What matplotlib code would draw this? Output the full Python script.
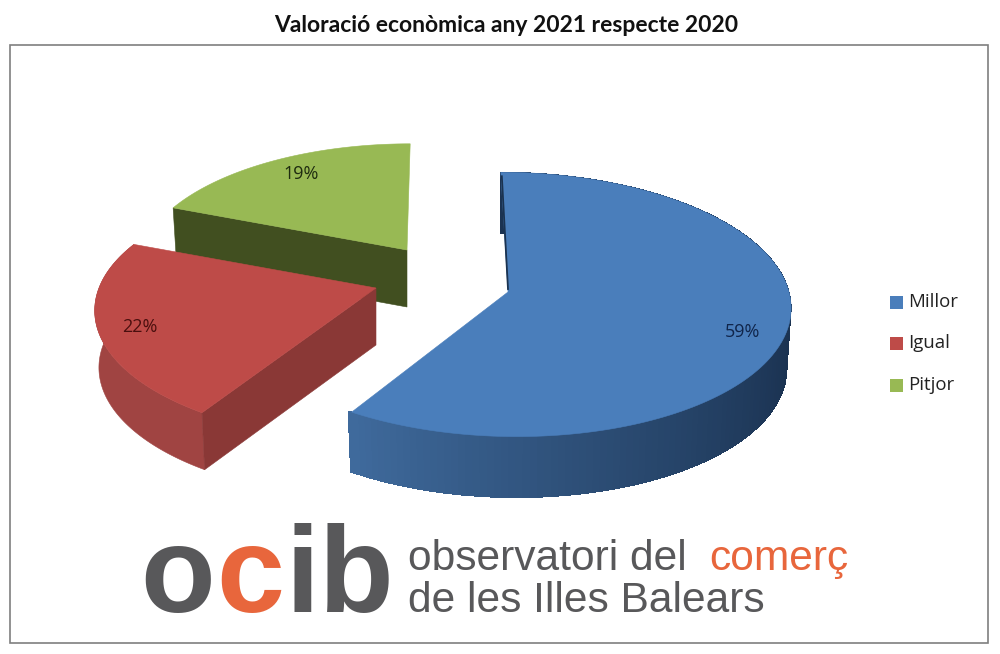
import numpy as np
import matplotlib
matplotlib.use('Agg')
import matplotlib.pyplot as plt
from matplotlib.patches import Polygon, Rectangle

# Dades del grafic
categories = ['Millor', 'Igual', 'Pitjor']
valors = [59, 22, 19]
titol = 'Valoració econòmica any 2021 respecte 2020'

colors_top = ['#4a7ebb', '#be4b48', '#98b954']
colors_wall = ['#2f5583', '#a04442', '#414f20']
colors_cut = ['#22395a', '#8a3836', '#414f20']

# forma de cada porcio: apex, radis, perspectiva, inclinacio, gruix (pixels)
formes = [
    dict(cx=508, cy=292, rx=281, ry=131, p=0.094, s=-0.06, h=61),
    dict(cx=376, cy=288, rx=277, ry=126, p=0.174, s=0.0, h=57),
    dict(cx=407, cy=250, rx=265, ry=120, p=0.13, s=0.03, h=57),
]
pos_etiquetes = [(743, 332), (140, 327), (301, 174)]
color_etiquetes = ['#10254a', '#4a0f0e', '#1f2c10']

FONT = 'Lato'
FONT2 = 'Open Sans'


def punt(t, f, r=1.0, baix=False):
    # t en graus, en sentit horari des de dalt
    a = np.radians(t)
    sx, cy = np.sin(a) * r, np.cos(a) * r
    d = 1 + f['p'] * cy
    x = f['rx'] * sx / d
    y = f['ry'] * cy / d
    x = x + f['s'] * y
    if baix:
        return f['cx'] + x * 0.985, f['cy'] - y + f['h']
    return f['cx'] + x, f['cy'] - y


fig = plt.figure(figsize=(10, 6.54), dpi=100)
ax = fig.add_axes([0, 0, 1, 1])
ax.set_xlim(0, 1000)
ax.set_ylim(654, 0)
ax.axis('off')

ax.add_patch(Rectangle((9.5, 45), 978, 598, fill=False, ec='#7f7f7f', lw=1.2))
ax.text(506, 26, titol, ha='center', va='center', fontsize=16.5, fontweight='bold',
        family=FONT, color='#111111')

# angles a partir dels valors
total = sum(valors)
angles = np.cumsum([0] + valors) / total * 360

# ordre de dibuix: verd, vermell, blau
for i in [2, 1, 0]:
    f = formes[i]
    t0, t1 = angles[i], angles[i + 1]
    ts = np.linspace(t0, t1, 160)

    # paret exterior
    if i == 0:
        # degradat a trams, de fosc a la dreta a clar a l'esquerra
        for a, b in zip(ts[:-1], ts[1:]):
            k = np.clip((b - 105) / (t1 - 105), 0, 1)
            c0, c1 = np.array([0x1b, 0x33, 0x52]), np.array([0x3f, 0x6a, 0x9c])
            col = (c0 + (c1 - c0) * k ** 1.3) / 255
            quad = [punt(a, f), punt(b + 0.8, f), punt(b + 0.8, f, baix=True), punt(a, f, baix=True)]
            ax.add_patch(Polygon(quad, fc=col, ec='none', antialiased=False, zorder=8))
    elif i == 1:
        paret = [punt(t, f) for t in ts] + [punt(t, f, baix=True) for t in ts[::-1]]
        ax.add_patch(Polygon(paret, fc=colors_wall[i], ec=colors_wall[i], lw=0.4, zorder=5))

    # paret del tall davanter (la que dona a l'espectador)
    if i != 0:
        quad = [punt(t0, f), punt(t0, f, r=0), punt(t0, f, r=0, baix=True), punt(t0, f, baix=True)]
        ax.add_patch(Polygon(quad, fc=colors_cut[i], ec=colors_cut[i], lw=0.4, zorder=3 + (2 - i) * 3))

    # cara superior
    cara = [punt(t, f) for t in ts] + [punt(t0, f, r=0)]
    ax.add_patch(Polygon(cara, fc=colors_top[i], ec=colors_top[i], lw=0.4, zorder=4 + (2 - i) * 3))

    if i == 0:
        # petit tall fosc a l'inici de la porcio blava
        x0, y0 = punt(t0, f)
        x1, y1 = punt(t0, f, r=0)
        ax.plot([x0 + 1, x1], [y0 + 4, y1 - 3], color='#1b3350', lw=1.3, zorder=11)

    ax.text(pos_etiquetes[i][0], pos_etiquetes[i][1], f'{valors[i]}%', ha='center', va='center',
            fontsize=13, family=FONT2, color=color_etiquetes[i], zorder=20)

# llegenda
for nom, col, y in zip(categories, colors_top, [302, 343, 385]):
    ax.add_patch(Rectangle((890, y - 6), 12.5, 12.5, fc=col, ec='none'))
    ax.text(908, y, nom, ha='left', va='center', fontsize=13.4, family=FONT2, color='#222222')

# logotip
gris = '#58585a'
taronja = '#e8663c'
for lletra, x, col in zip('ocib', [140, 216, 285, 319], [gris, taronja, gris, gris]):
    ax.text(x, 612, lletra, ha='left', va='baseline', fontsize=88, fontweight='bold',
            family='Liberation Sans', color=col)
ax.text(408, 570, 'observatori del', ha='left', va='baseline', fontsize=30.6,
        family='Liberation Sans', color=gris)
ax.text(709, 570, 'comerç', ha='left', va='baseline', fontsize=30.6,
        family='Liberation Sans', color=taronja)
ax.text(408, 612, 'de les Illes Balears', ha='left', va='baseline', fontsize=30.6,
        family='Liberation Sans', color=gris)

fig.savefig('out.png', dpi=100, facecolor='white')
